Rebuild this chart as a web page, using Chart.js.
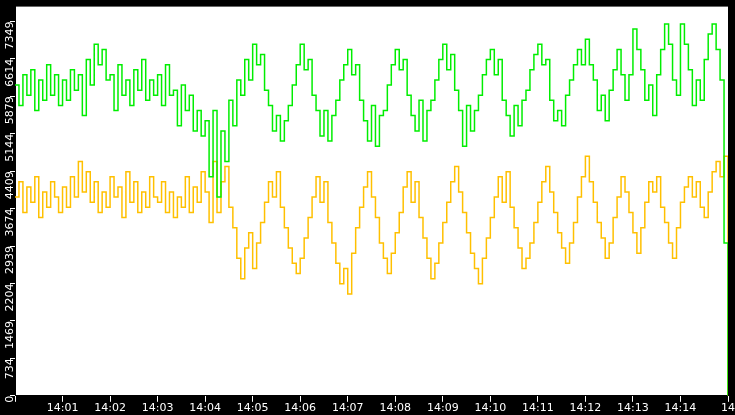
<!DOCTYPE html>
<html><head><script src="https://cdn.jsdelivr.net/npm/chart.js@4"></script>
<style>html,body{margin:0;background:#000}</style></head>
<body><canvas id="c" width="735" height="415" style="width:735px;height:415px"></canvas>
<script>
// one value every 5 seconds, 14:00:00 → 14:14:55, then final value at 14:15
const stepSeconds = 5;
const greenSeries = [
6100,5700,6300,5900,6400,5600,6200,5800,6500,5900,6300,5700,
6200,5800,6400,6000,6300,5500,6600,6100,6900,6500,6800,6200,
6300,5600,6500,5900,6200,5700,6400,6000,6600,5800,6200,5900,
6300,5700,6500,5900,6000,5300,6100,5600,5900,5200,5600,5100,
5400,4300,5600,3900,5200,4600,5800,5300,6200,5900,6600,6200,
6900,6500,6700,6000,5700,5200,5500,5000,5400,5700,6100,6500,
6900,6400,6600,5900,5600,5100,5600,5000,5500,5800,6200,6500,
6800,6300,6500,5800,5400,5000,5700,4900,5500,5600,6100,6500,
6800,6400,6600,5900,5500,5200,5800,5000,5600,5800,6200,6600,
6900,6400,6700,6000,5600,4900,5700,5200,5600,5900,6300,6600,
6800,6300,6600,5800,5500,5100,5700,5300,5800,6000,6400,6700,
6900,6500,6600,5800,5400,5600,5300,5900,6200,6500,6800,6500,
7000,6500,6200,5600,5900,5400,6000,6400,6800,6300,5800,6300,
7200,6800,6400,5800,6100,5500,6300,6800,7300,6900,6200,5900,
7300,6900,6400,5700,6200,5800,6600,7100,7300,6800,6200,3000
];
const orangeSeries = [
3900,4200,3600,4100,3800,4300,3500,4000,3700,4200,3900,3600,
4100,3700,4300,3900,4600,4000,4400,3800,4200,3600,4000,3700,
4300,3900,4100,3500,4400,3800,4200,3600,4000,3700,4300,3900,
3800,4200,3600,4000,3500,3900,3700,4300,3600,4100,3800,4400,
4000,3400,4600,3600,4200,4500,3700,3300,2700,2300,2900,3200,
2500,3000,3400,3800,4200,3900,4400,3700,3300,2900,2600,2400,
2700,3100,3500,3900,4300,3800,4200,3400,3000,2600,2200,2500,
2000,2800,3300,3700,4100,4400,3900,3500,3000,2700,2400,2800,
3200,3600,4100,4400,3800,4200,3500,3100,2700,2300,2600,3000,
3400,3800,4200,4500,4000,3600,3200,2800,2500,2200,2700,3100,
3500,3900,4300,3800,4400,3700,3300,2900,2500,2700,3000,3400,
3800,4200,4500,4000,3600,3200,2900,2600,3000,3400,3900,4300,
4700,4200,3800,3400,3100,2700,3000,3500,3900,4300,4000,3600,
3200,2800,3300,3800,4200,4000,4300,3700,3400,3000,2700,3300,
3800,4100,4300,3900,4200,3700,3500,4000,4400,4600,4300,4700
];
const finalValue = 0;
const yStep = 734.9;
const yMax = 7640;
const minuteLabels = ["","14:01","14:02","14:03","14:04","14:05","14:06","14:07","14:08","14:09","14:10","14:11","14:12","14:13","14:14","14"];

function toPoints(arr){
  const pts = arr.map((v,i)=>({x:i*stepSeconds,y:v}));
  pts.push({x:arr.length*stepSeconds,y:finalValue});
  return pts;
}
const bg = {id:'bg',beforeDraw(ch){const c=ch.ctx,a=ch.chartArea;c.save();c.fillStyle='#000';c.fillRect(0,0,ch.width,ch.height);c.fillStyle='#fff';c.fillRect(a.left,a.top,a.right-a.left,a.bottom-a.top);c.restore();}};
new Chart(document.getElementById('c'),{
  type:'line',
  data:{datasets:[
    {data:toPoints(greenSeries),borderColor:'#00ee00',borderWidth:1.5,pointRadius:0,stepped:true,tension:0},
    {data:toPoints(orangeSeries),borderColor:'#ffc000',borderWidth:1.5,pointRadius:0,stepped:true,tension:0}
  ]},
  options:{animation:false,responsive:false,devicePixelRatio:1,
    layout:{padding:{top:0,right:0}},
    plugins:{legend:{display:false},tooltip:{enabled:false}},
    scales:{
      x:{type:'linear',min:0,max:900,
        afterBuildTicks(s){s.ticks=minuteLabels.map((l,i)=>({value:i*60}));},
        ticks:{color:'#fff',font:{family:'DejaVu Sans',size:11},maxRotation:0,autoSkip:false,padding:0,
          callback:(v,i)=>minuteLabels[i]},
        grid:{display:true,drawOnChartArea:false,color:'#fff',tickLength:6},border:{color:'#000'}},
      y:{min:0,max:yMax,
        afterBuildTicks(s){const t=[];for(let k=0;k<=10;k++)t.push({value:k*yStep});s.ticks=t;},
        afterFit(s){s.width=15;},
        ticks:{color:'#fff',font:{family:'DejaVu Sans',size:11},minRotation:90,maxRotation:90,padding:0,
          callback:v=>String(Math.floor(v+0.01))},
        grid:{display:true,drawOnChartArea:false,color:'#fff',tickLength:5},border:{color:'#000'}}
    }},
  plugins:[bg]
});
</script></body></html>
